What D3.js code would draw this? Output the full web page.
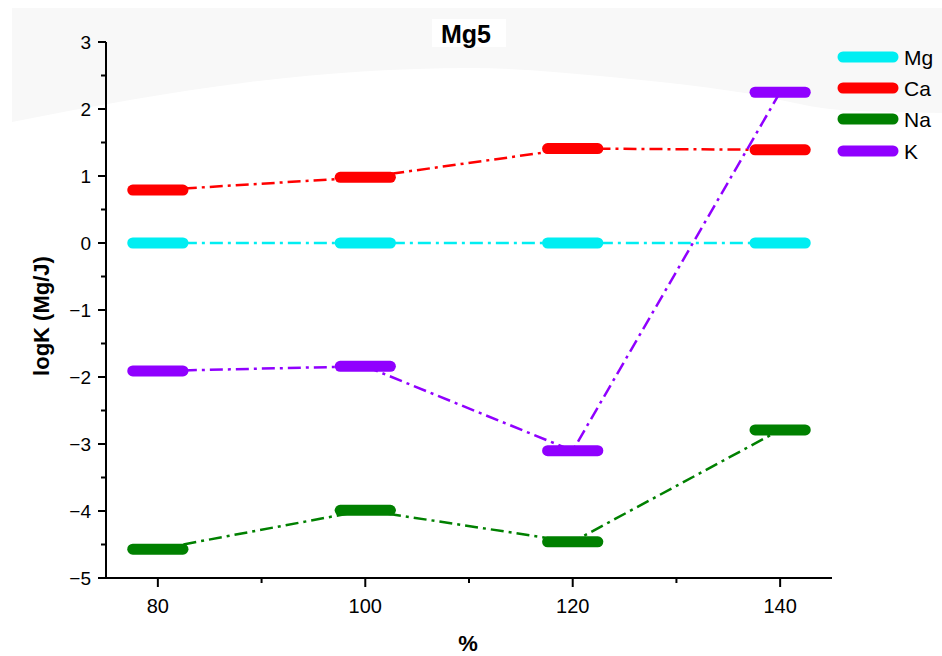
<!DOCTYPE html>
<html><head><meta charset="utf-8">
<script src="https://cdn.jsdelivr.net/npm/d3@7"></script>
<style>body{margin:0;background:#fff}svg{display:block;font-family:Arial,"Liberation Sans",sans-serif}</style>
</head><body><svg id="c" width="942" height="656"></svg>
<script>
const xCats = [80, 100, 120, 140];
const seriesNames = ["Mg", "Ca", "Na", "K"];
const mgVals = [0, 0, 0, 0];
const caVals = [0.79, 0.98, 1.41, 1.39];
const naVals = [-4.57, -3.99, -4.46, -2.79];
const kVals  = [-1.91, -1.84, -3.10, 2.25];
const colors = ["#00eef2", "#ff0000", "#008000", "#9000ff"];
const yTicks = [-5, -4, -3, -2, -1, 0, 1, 2, 3];
const xTicks = [80, 100, 120, 140];
const title = "Mg5", xLabel = "%", yLabel = "logK (Mg/J)";
const segHalf = 3;

const svg = d3.select("#c");
const x = d3.scaleLinear().domain([75, 145]).range([106, 832]);
const y = d3.scaleLinear().domain([-5, 3]).range([578, 42]);

// light grey background band
const bgPts = [[12,122],[130,100],[250,82],[470,68],[600,76],[745,93],[840,110],[942,113]];
const curve = d3.line().curve(d3.curveMonotoneX)(bgPts);
svg.append("path").attr("d", "M942,8 L12,8 L" + curve.slice(1) + " Z").attr("fill", "#f8f8f8");

// title box
svg.append("rect").attr("x", 432).attr("y", 19).attr("width", 74).attr("height", 28).attr("fill", "#fff");
svg.append("text").attr("x", 466).attr("y", 43).attr("text-anchor", "middle")
  .attr("font-size", 25).attr("font-weight", "bold").text(title);

// axes
const gy = svg.append("g");
gy.append("line").attr("x1", x(75)).attr("x2", x(75)).attr("y1", y(-5)).attr("y2", y(3)).attr("stroke", "#000").attr("stroke-width", 2);
d3.range(-5, 3.01, 0.5).forEach(v => {
  const major = Math.abs(v - Math.round(v)) < 1e-6;
  gy.append("line").attr("x1", x(75)).attr("x2", x(75) - (major ? 8 : 5)).attr("y1", y(v)).attr("y2", y(v)).attr("stroke", "#000").attr("stroke-width", 2);
});
yTicks.forEach(v => {
  gy.append("text").attr("x", 91).attr("y", y(v) + 7).attr("text-anchor", "end").attr("font-size", 19)
    .text(v < 0 ? "\u2212" + Math.abs(v) : v);
});
const gx = svg.append("g");
gx.append("line").attr("x1", x(75) - 1).attr("x2", x(145)).attr("y1", y(-5)).attr("y2", y(-5)).attr("stroke", "#000").attr("stroke-width", 2);
d3.range(80, 141, 10).forEach(v => {
  const major = v % 20 === 0;
  gx.append("line").attr("x1", x(v)).attr("x2", x(v)).attr("y1", y(-5)).attr("y2", y(-5) + (major ? 9 : 5)).attr("stroke", "#000").attr("stroke-width", 2);
});
xTicks.forEach(v => {
  gx.append("text").attr("x", x(v)).attr("y", 613).attr("text-anchor", "middle").attr("font-size", 20).text(v);
});
svg.append("text").attr("x", 468).attr("y", 651).attr("text-anchor", "middle").attr("font-size", 22).attr("font-weight", "bold").text(xLabel);
svg.append("text").attr("transform", "translate(49,316) rotate(-90)").attr("text-anchor", "middle")
  .attr("font-size", 22).attr("font-weight", "bold").text(yLabel);

// series
const allVals = [mgVals, caVals, naVals, kVals];
const line = d3.line().x(d => x(d[0])).y(d => y(d[1]));
allVals.forEach((vals, i) => {
  const g = svg.append("g");
  const pts = xCats.map((c, j) => [c, vals[j]]);
  g.append("path").attr("d", line(pts)).attr("fill", "none").attr("stroke", colors[i])
    .attr("stroke-width", 2.5).attr("stroke-dasharray", "13,5,3,5");
  pts.forEach(p => {
    g.append("line").attr("x1", x(p[0] - segHalf) + 6).attr("x2", x(p[0] + segHalf) - 6)
      .attr("y1", y(p[1])).attr("y2", y(p[1])).attr("stroke", colors[i])
      .attr("stroke-width", 11).attr("stroke-linecap", "round");
  });
});

// legend
const legY = [57, 88, 119, 151];
seriesNames.forEach((n, i) => {
  svg.append("line").attr("x1", 843).attr("x2", 893).attr("y1", legY[i]).attr("y2", legY[i])
    .attr("stroke", colors[i]).attr("stroke-width", 11).attr("stroke-linecap", "round");
  svg.append("text").attr("x", 904).attr("y", legY[i] + 8).attr("font-size", 21).text(n);
});
</script></body></html>
